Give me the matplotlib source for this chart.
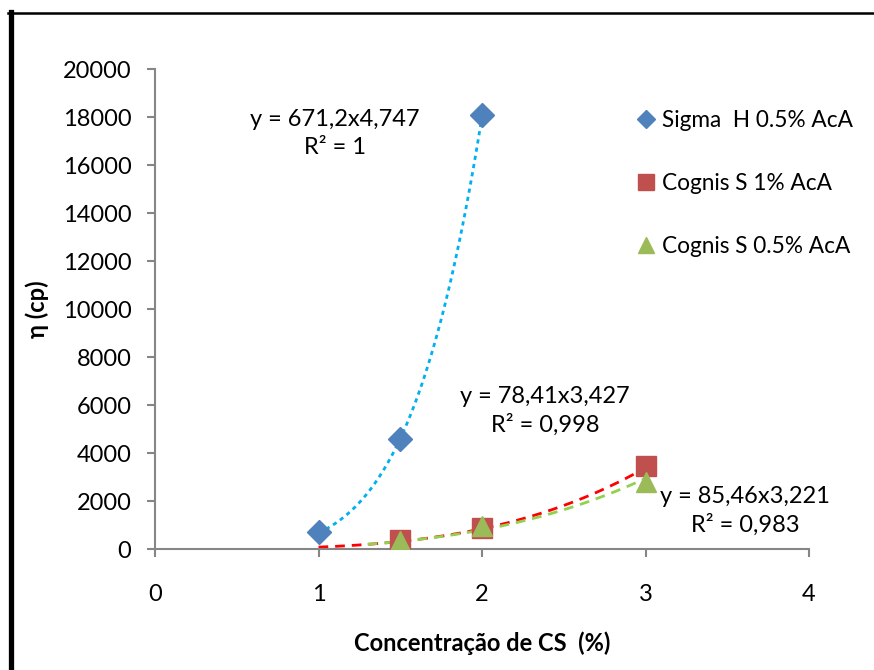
import numpy as np
import matplotlib
matplotlib.use("Agg")
import matplotlib.pyplot as plt
from matplotlib.lines import Line2D

plt.rcParams['font.family'] = ['Lato', 'DejaVu Sans']

# Data
x_sigma = [1.0, 1.5, 2.0]
y_sigma = [700, 4600, 18100]
x_cog1 = [1.5, 2.0, 3.0]
y_cog1 = [380, 880, 3450]
x_cog05 = [1.5, 2.0, 3.0]
y_cog05 = [320, 950, 2800]

labels = ["Sigma  H 0.5% AcA", "Cognis S 1% AcA", "Cognis S 0.5% AcA"]

# Power trendline parameters (from the chart's labels)
fit_sigma = (671.2, 4.747)
fit_cog1 = (78.41, 3.427)
fit_cog05 = (85.46, 3.221)
eq_texts = ["y = 671,2x4,747\nR² = 1",
            "y = 78,41x3,427\nR² = 0,998",
            "y = 85,46x3,221\nR² = 0,983"]

W, H = 874, 670
fig = plt.figure(figsize=(W/100, H/100), dpi=100)
ax = fig.add_axes([155/W, 1-549/H, (809-155)/W, (549-69)/H])

blue = '#4F81BD'
red = '#C0504D'
green = '#9BBB59'

# trendlines
xs = np.linspace(1.0, 2.0, 100)
ax.plot(xs, fit_sigma[0]*xs**fit_sigma[1], color='#00B0F0', lw=2, ls=(0, (1.5, 1.5)), zorder=2)
xs = np.linspace(1.0, 3.0, 150)
ax.plot(xs, fit_cog1[0]*xs**fit_cog1[1], color='#FF0000', lw=2, ls=(0, (3.5, 2.5)), zorder=2)
xs = np.linspace(1.3, 3.0, 150)
ax.plot(xs, fit_cog05[0]*xs**fit_cog05[1], color='#92D050', lw=2, ls=(0, (3.5, 2.5)), zorder=2)

ax.plot(x_sigma, y_sigma, 'D', color=blue, ms=12, mec=blue, label=labels[0], zorder=3)
ax.plot(x_cog1, y_cog1, 's', color=red, ms=14, mec=red, label=labels[1], zorder=3)
ax.plot(x_cog05, y_cog05, '^', color=green, ms=15, mec=green, label=labels[2], zorder=4)

ax.set_xlim(0, 4)
ax.set_ylim(0, 20000)
ax.set_xticks([0, 1, 2, 3, 4])
ax.set_yticks(np.arange(0, 20001, 2000))

for s in ['top', 'right']:
    ax.spines[s].set_visible(False)
for s in ['left', 'bottom']:
    ax.spines[s].set_color('#868686')
    ax.spines[s].set_linewidth(1.5)
ax.tick_params(axis='both', colors='#868686', labelcolor='black', labelsize=17,
               length=6, width=1.5, direction='out')
ax.tick_params(axis='y', pad=11)
ax.tick_params(axis='x', pad=19)

ax.text(1.10, 17310, eq_texts[0], ha='center', va='center', fontsize=17, linespacing=1.4)
ax.text(2.385, 5750, eq_texts[1], ha='center', va='center', fontsize=17, linespacing=1.4)
ax.text(3.61, 1580, eq_texts[2], ha='center', va='center', fontsize=17, linespacing=1.4)

leg = ax.legend(loc='upper left', bbox_to_anchor=((628-155)/(809-155), (549-101)/(549-69)),
                frameon=False, fontsize=16.3, handlelength=0.8, handletextpad=0.3,
                labelspacing=1.85, borderaxespad=0, markerscale=0.8)

fig.text(37/W, 1-309/H, "η (cp)", rotation=90, ha='center', va='center',
         fontsize=17, fontweight='bold')
fig.text(482/W, 1-643/H, "Concentração de CS  (%)", ha='center', va='center',
         fontsize=17, fontweight='bold')

# outer frame lines
fig.add_artist(Line2D([10.5/W, 10.5/W], [0, 1-12/H], color='black', lw=3.8, transform=fig.transFigure))
fig.add_artist(Line2D([8/W, 1], [1-13/H, 1-13/H], color='black', lw=1.8, transform=fig.transFigure))

fig.savefig('out.png', dpi=100)
